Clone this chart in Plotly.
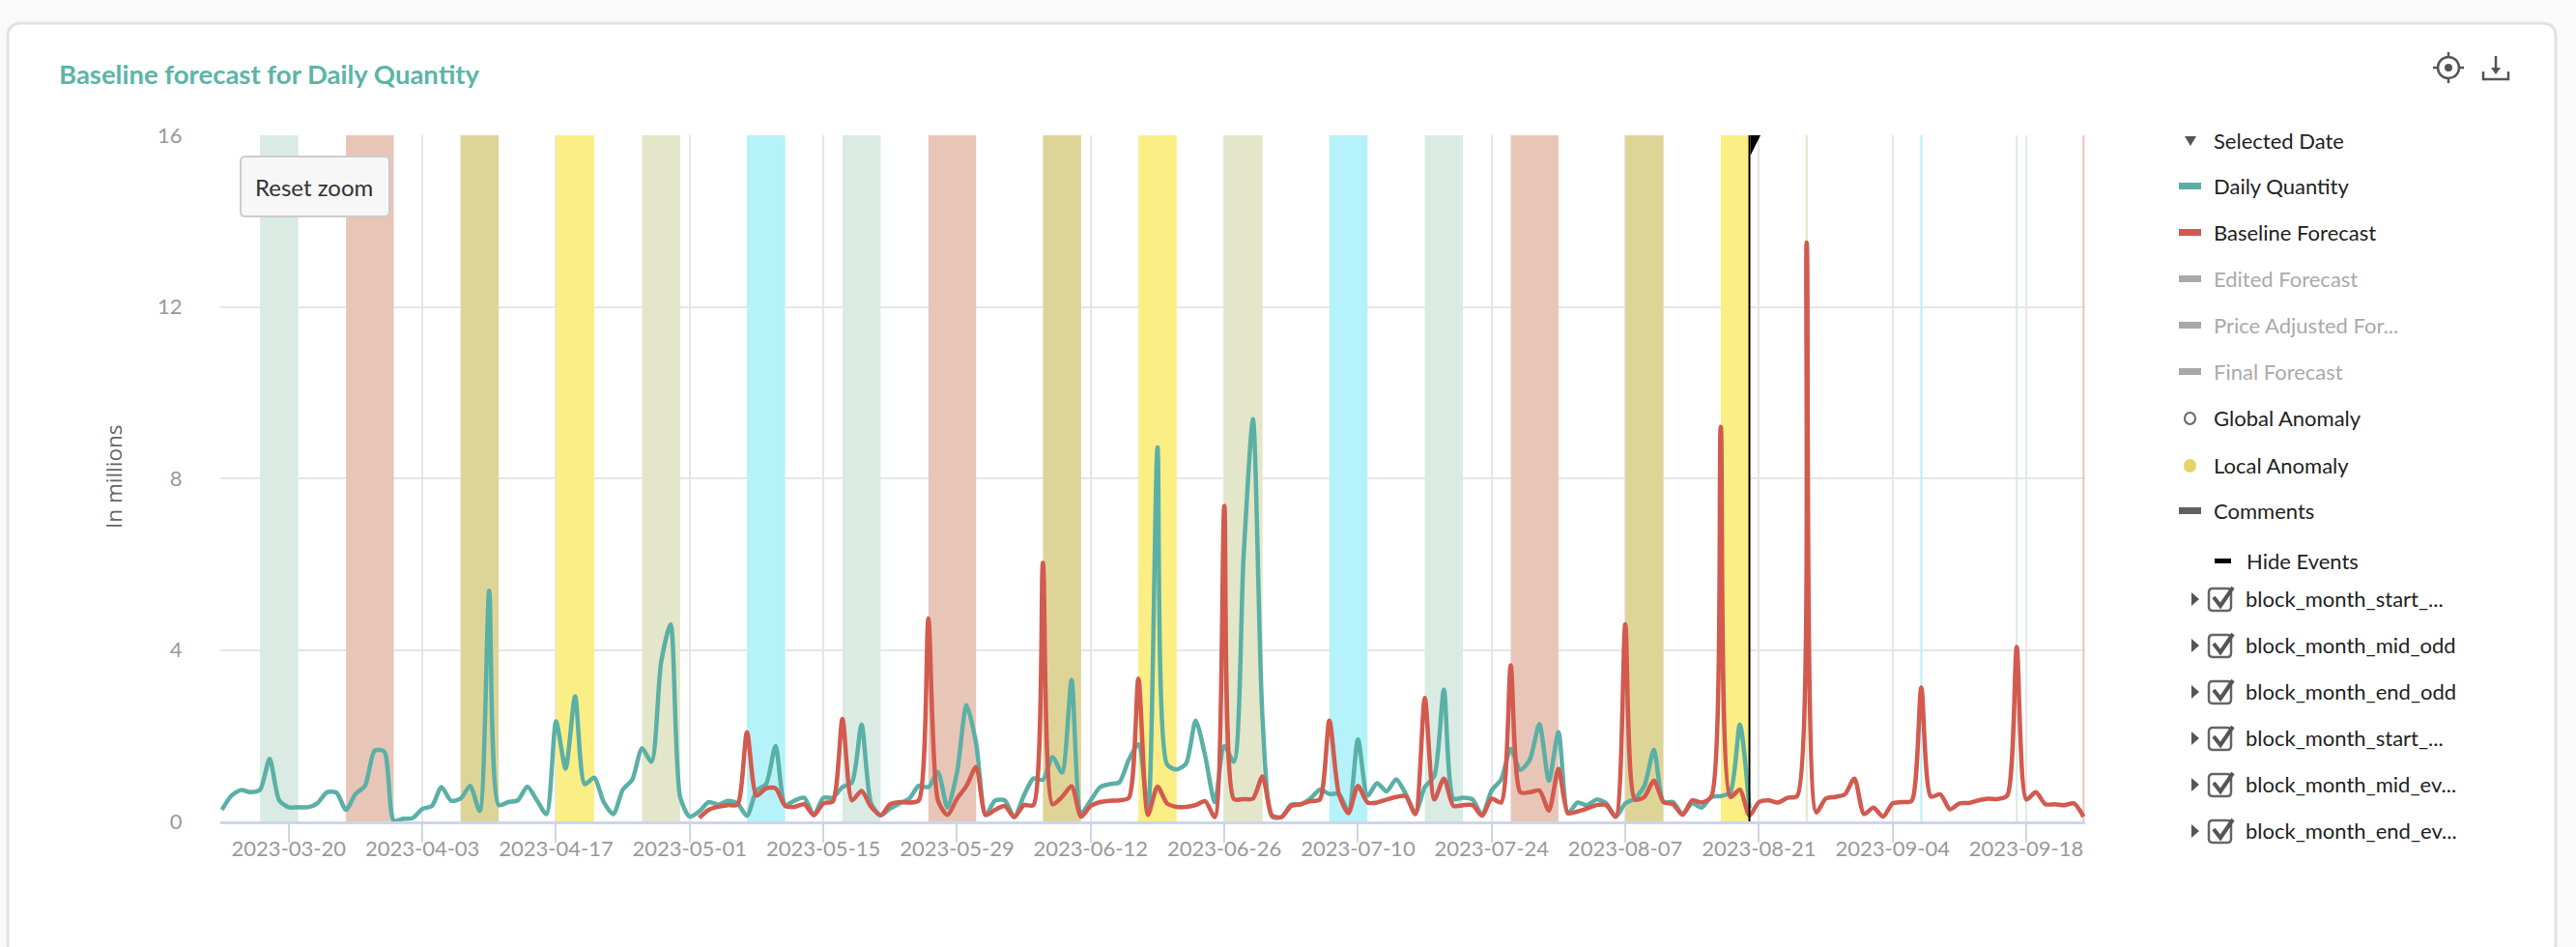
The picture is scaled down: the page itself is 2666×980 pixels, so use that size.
import pandas as pd
import plotly.graph_objects as go

# daily values, in millions
qty_start = "2023-03-13"
qty_values = [
    0.27, 0.6, 0.73, 0.68, 0.74, 1.46, 0.49, 0.33, 0.33, 0.33,
    0.42, 0.68, 0.67, 0.27, 0.64, 0.83, 1.65, 1.63, 0.02, 0.06,
    0.08, 0.29, 0.36, 0.8, 0.48, 0.53, 0.83, 0.24, 5.38, 0.38,
    0.45, 0.49, 0.81, 0.49, 0.17, 2.33, 1.23, 2.92, 0.87, 1.02,
    0.45, 0.17, 0.74, 0.98, 1.7, 1.39, 3.7, 4.6, 0.57, 0.11,
    0.23, 0.45, 0.39, 0.48, 0.42, 0.13, 0.72, 0.87, 1.76, 0.39,
    0.49, 0.55, 0.15, 0.55, 0.55, 0.8, 0.91, 2.26, 0.42, 0.14,
    0.3, 0.42, 0.53, 0.83, 0.8, 1.15, 0.32, 1.14, 2.71, 1.82,
    0.15, 0.49, 0.49, 0.1, 0.6, 1.0, 0.97, 1.5, 1.14, 3.3,
    0.19, 0.49, 0.8, 0.87, 0.91, 1.44, 1.8, 0.23, 8.72, 1.33,
    1.21, 1.35, 2.35, 1.52, 0.45, 1.76, 1.39, 6.1, 9.38, 2.4,
    0.11, 0.1, 0.39, 0.4, 0.53, 0.74, 0.64, 0.64, 0.23, 1.91,
    0.6, 0.89, 0.7, 0.98, 0.64, 0.19, 0.8, 1.06, 3.07, 0.53,
    0.55, 0.51, 0.15, 0.72, 0.98, 1.69, 1.2, 1.44, 2.27, 0.95,
    2.08, 0.19, 0.44, 0.38, 0.51, 0.42, 0.11, 0.42, 0.53, 0.83,
    1.67, 0.45, 0.45, 0.17, 0.42, 0.32, 0.57, 0.59, 0.68, 2.26,
    0.3,
]
forecast_start = "2023-05-02"
forecast_values = [
    0.08, 0.27, 0.34, 0.38, 0.39, 2.08, 0.6, 0.77, 0.77, 0.36,
    0.34, 0.4, 0.14, 0.42, 0.47, 2.39, 0.49, 0.71, 0.34, 0.14,
    0.4, 0.45, 0.44, 0.49, 4.73, 0.49, 0.15, 0.53, 0.83, 1.27,
    0.15, 0.27, 0.36, 0.1, 0.38, 0.38, 6.03, 0.4, 0.57, 0.82,
    0.11, 0.36, 0.45, 0.48, 0.49, 0.55, 3.33, 0.15, 0.81, 0.42,
    0.34, 0.34, 0.38, 0.47, 0.1, 7.36, 0.52, 0.52, 0.53, 1.05,
    0.14, 0.1, 0.36, 0.4, 0.47, 0.51, 2.35, 0.64, 0.19, 0.83,
    0.44, 0.44, 0.51, 0.57, 0.59, 0.17, 2.88, 0.51, 1.0, 0.36,
    0.38, 0.38, 0.13, 0.53, 0.44, 3.64, 0.68, 0.68, 0.72, 0.25,
    1.23, 0.19, 0.23, 0.3, 0.38, 0.38, 0.11, 4.6, 0.51, 0.57,
    0.95, 0.45, 0.4, 0.15, 0.49, 0.44, 0.57, 9.2, 0.57, 0.74,
    0.14, 0.45, 0.49, 0.44, 0.55, 0.59, 13.5, 0.21, 0.53, 0.57,
    0.63, 1.0, 0.17, 0.32, 0.11, 0.42, 0.45, 0.48, 3.12, 0.58,
    0.63, 0.28, 0.42, 0.43, 0.49, 0.53, 0.52, 0.6, 4.07, 0.51,
    0.68, 0.4, 0.4, 0.38, 0.42, 0.11,
]

tick_dates = [
    "2023-03-20", "2023-04-03", "2023-04-17", "2023-05-01", "2023-05-15",
    "2023-05-29", "2023-06-12", "2023-06-26", "2023-07-10", "2023-07-24",
    "2023-08-07", "2023-08-21", "2023-09-04", "2023-09-18",
]
y_ticks = [0, 4, 8, 12, 16]

# event bands, colours repeat every six events
band_starts = [
    "2023-03-17", "2023-03-26", "2023-04-07", "2023-04-17", "2023-04-26", "2023-05-07",
    "2023-05-17", "2023-05-26", "2023-06-07", "2023-06-17", "2023-06-26", "2023-07-07",
    "2023-07-17", "2023-07-26", "2023-08-07", "2023-08-17", "2023-08-26", "2023-09-07",
    "2023-09-17", "2023-09-24",
]
band_ends = [
    "2023-03-21", "2023-03-31", "2023-04-11", "2023-04-21", "2023-04-30", "2023-05-11",
    "2023-05-21", "2023-05-31", "2023-06-11", "2023-06-21", "2023-06-30", "2023-07-11",
    "2023-07-21", "2023-07-31", "2023-08-11", "2023-08-20", "2023-08-26", "2023-09-07",
    "2023-09-17", "2023-09-24",
]
band_colors = ["#d9ebe3", "#e7c6b8", "#dfd498", "#faee85", "#e3e6c8", "#b5f2f9"]
selected_date = "2023-08-20"

legend_names = ["Selected Date", "Daily Quantity", "Baseline Forecast", "Edited Forecast",
                "Price Adjusted For...", "Final Forecast", "Global Anomaly", "Local Anomaly", "Comments"]
legend_text_colors = ["#222", "#222", "#222", "#aaa", "#aaa", "#aaa", "#222", "#222", "#222"]
legend_rows = [145, 192, 240, 288, 336, 384, 432, 481, 528]
event_names = ["block_month_start_...", "block_month_mid_odd", "block_month_end_odd",
               "block_month_start_...", "block_month_mid_ev...", "block_month_end_ev..."]
event_rows = [619, 667, 715, 763, 811, 859]

W, H = 2666, 980
PL, PT, PW, PH = 228, 140, 1930, 710
TEAL = "#5bb0a6"
RED = "#d35a4f"
LATO = "Lato"


def fx(px):
    return (px - PL) / PW


def fy(py):
    return 1 - (py - PT) / PH


def pth(*pts):
    # (x, y) page pixels to an svg path in paper coordinates
    out = []
    for i, p in enumerate(pts):
        if p == "Z":
            out.append("Z")
        else:
            out.append(("M" if i == 0 else "L") + f"{fx(p[0]):.5f},{fy(p[1]):.5f}")
    return " ".join(out)


def rounded(x0, y0, x1, y1, r):
    a, b, c, d = fx(x0), fy(y0), fx(x1), fy(y1)
    rx, ry = r / PW, r / PH
    return (f"M{a+rx},{b} L{c-rx},{b} Q{c},{b} {c},{b-ry} L{c},{d+ry} Q{c},{d} {c-rx},{d} "
            f"L{a+rx},{d} Q{a},{d} {a},{d+ry} L{a},{b-ry} Q{a},{b} {a+rx},{b} Z")


def box(x0, y0, x1, y1, kind="rect", **kw):
    return dict(type=kind, xref="paper", yref="paper", x0=fx(x0), x1=fx(x1), y0=fy(y0), y1=fy(y1), **kw)


def label(px, py, text, size=22, color="#222", family=LATO, anchor="left", **kw):
    return dict(xref="paper", yref="paper", x=fx(px), y=fy(py), text=text, showarrow=False,
                xanchor=anchor, yanchor="middle", font=dict(family=family, size=size, color=color), **kw)


shapes = []
annotations = []

# card
shapes.append(dict(type="path", xref="paper", yref="paper", path=rounded(8, 24, 2645, 990, 14),
                   fillcolor="white", line=dict(color="#e2e2e2", width=3), layer="below"))

# event bands, over the grid but under the lines
for i, (a, b) in enumerate(zip(band_starts, band_ends)):
    c = band_colors[i % len(band_colors)]
    if a == b:
        shapes.append(dict(type="line", xref="x", yref="y", x0=a, x1=b, y0=y_ticks[0], y1=y_ticks[-1],
                           line=dict(color=c, width=2), layer="between"))
    else:
        shapes.append(dict(type="rect", xref="x", yref="y", x0=a, x1=b, y0=y_ticks[0], y1=y_ticks[-1],
                           fillcolor=c, line=dict(width=0), layer="between"))

# selected date marker
shapes.append(dict(type="line", xref="x", yref="y", x0=selected_date, x1=selected_date, y0=0, y1=16,
                   line=dict(color="black", width=2), layer="above"))
shapes.append(dict(type="path", xref="x", yref="y", xsizemode="pixel", ysizemode="pixel",
                   xanchor=selected_date, yanchor=16, path="M-10,3 L13,3 L1,-21 L1,0 L-10,0 Z",
                   fillcolor="black", line=dict(width=0), layer="above"))

# reset zoom button
shapes.append(dict(type="path", xref="paper", yref="paper", path=rounded(249, 162, 403, 224, 5),
                   fillcolor="#f7f7f7", line=dict(color="#cccccc", width=2), layer="above"))
annotations.append(label(325, 193, "Reset zoom", size=24, color="#333", anchor="center"))

# title and axis title
annotations.append(label(59, 77, "<b>Baseline forecast for Daily Quantity</b>", size=27.5, color="#5bb5a7"))
annotations.append(label(117, 493, "In millions", size=22.5, color="#666", family="Open Sans",
                         anchor="center", textangle=-90))

# top right icons
ICON = "#555555"
shapes.append(box(2523, 59, 2545, 81, "circle", line=dict(color=ICON, width=2.5)))
shapes.append(box(2530, 66, 2538, 74, "circle", fillcolor=ICON, line=dict(width=0)))
for seg in [((2534, 54), (2534, 59)), ((2534, 81), (2534, 86)), ((2518, 70), (2523, 70)), ((2545, 70), (2550, 70))]:
    shapes.append(dict(type="path", xref="paper", yref="paper", path=pth(*seg), line=dict(color=ICON, width=2.5)))
shapes.append(dict(type="path", xref="paper", yref="paper", path=pth((2570, 74), (2570, 82), (2596, 82), (2596, 74)),
                   line=dict(color=ICON, width=2.5)))
shapes.append(dict(type="path", xref="paper", yref="paper", path=pth((2583, 58), (2583, 74)),
                   line=dict(color=ICON, width=2.5)))
shapes.append(dict(type="path", xref="paper", yref="paper", path=pth((2578, 70), (2588, 70), (2583, 77), "Z"),
                   fillcolor=ICON, line=dict(width=0)))

# legend column
for name, col, row in zip(legend_names, legend_text_colors, legend_rows):
    annotations.append(label(2289, row, name, color=col))
shapes.append(dict(type="path", xref="paper", yref="paper", path=pth((2261, 141), (2273, 141), (2267, 151), "Z"),
                   fillcolor="#555", line=dict(width=0)))
for row, c in zip(legend_rows[1:6], [TEAL, RED, "#a8a8a8", "#a8a8a8", "#a8a8a8"]):
    shapes.append(box(2255, row - 3, 2278, row + 4, fillcolor=c, line=dict(width=0)))
shapes.append(box(2255, legend_rows[8] - 3, 2278, legend_rows[8] + 4, fillcolor="#606060", line=dict(width=0)))
shapes.append(box(2261, legend_rows[6] - 5, 2272, legend_rows[6] + 7, "circle", line=dict(color="#666", width=2)))
shapes.append(box(2260, legend_rows[7] - 6, 2273, legend_rows[7] + 8, "circle", fillcolor="#e4d565", line=dict(width=0)))

annotations.append(label(2323, 580, "Hide Events"))
shapes.append(box(2292, 578, 2309, 583, fillcolor="black", line=dict(width=0)))
for name, row in zip(event_names, event_rows):
    annotations.append(label(2322, row, name))
    shapes.append(dict(type="path", xref="paper", yref="paper",
                       path=pth((2268, row - 6), (2276, row + 1), (2268, row + 8), "Z"),
                       fillcolor="#555", line=dict(width=0)))
    shapes.append(dict(type="path", xref="paper", yref="paper", path=rounded(2286, row - 10, 2309, row + 13, 4),
                       line=dict(color="#666", width=2.5)))
    shapes.append(dict(type="path", xref="paper", yref="paper",
                       path=pth((2291, row - 1), (2298, row + 8), (2311, row - 11)),
                       line=dict(color="#555", width=4)))

qty_dates = pd.date_range(qty_start, periods=len(qty_values), freq="D")
forecast_dates = pd.date_range(forecast_start, periods=len(forecast_values), freq="D")

fig = go.Figure()
fig.add_trace(go.Scatter(x=qty_dates, y=qty_values, mode="lines", name="Daily Quantity",
                         line=dict(color=TEAL, width=4.5, shape="spline", smoothing=0.7)))
fig.add_trace(go.Scatter(x=forecast_dates, y=forecast_values, mode="lines", name="Baseline Forecast",
                         line=dict(color=RED, width=4.5, shape="spline", smoothing=0.7)))

fig.update_layout(
    width=W, height=H,
    margin=dict(l=PL, r=W - PL - PW, t=PT, b=H - PT - PH, pad=0),
    paper_bgcolor="#fafafa", plot_bgcolor="white",
    showlegend=False,
    shapes=shapes, annotations=annotations,
    xaxis=dict(
        type="date", range=["2023-03-12 20:00", "2023-09-24 04:00"],
        tickmode="array", tickvals=tick_dates, ticktext=tick_dates,
        tickfont=dict(family=LATO, size=22, color="#999999"),
        ticks="outside", ticklen=19, tickwidth=2, tickcolor="#ccd6eb", ticklabelstandoff=-12,
        showline=True, linecolor="#ccd6eb", linewidth=3,
        showgrid=True, gridcolor="#e6e6e6", gridwidth=2, zeroline=False,
    ),
    yaxis=dict(
        range=[0, 16], tickmode="array", tickvals=y_ticks,
        tickfont=dict(family=LATO, size=22, color="#999999"),
        ticks="outside", ticklen=34, tickcolor="rgba(0,0,0,0)", tickwidth=1,
        showline=False, showgrid=True, gridcolor="#e6e6e6", gridwidth=2, zeroline=False,
    ),
)

fig.write_html("out.html", config=dict(displayModeBar=False),
               post_script="document.body.style.margin='0';document.body.style.overflow='hidden';")
